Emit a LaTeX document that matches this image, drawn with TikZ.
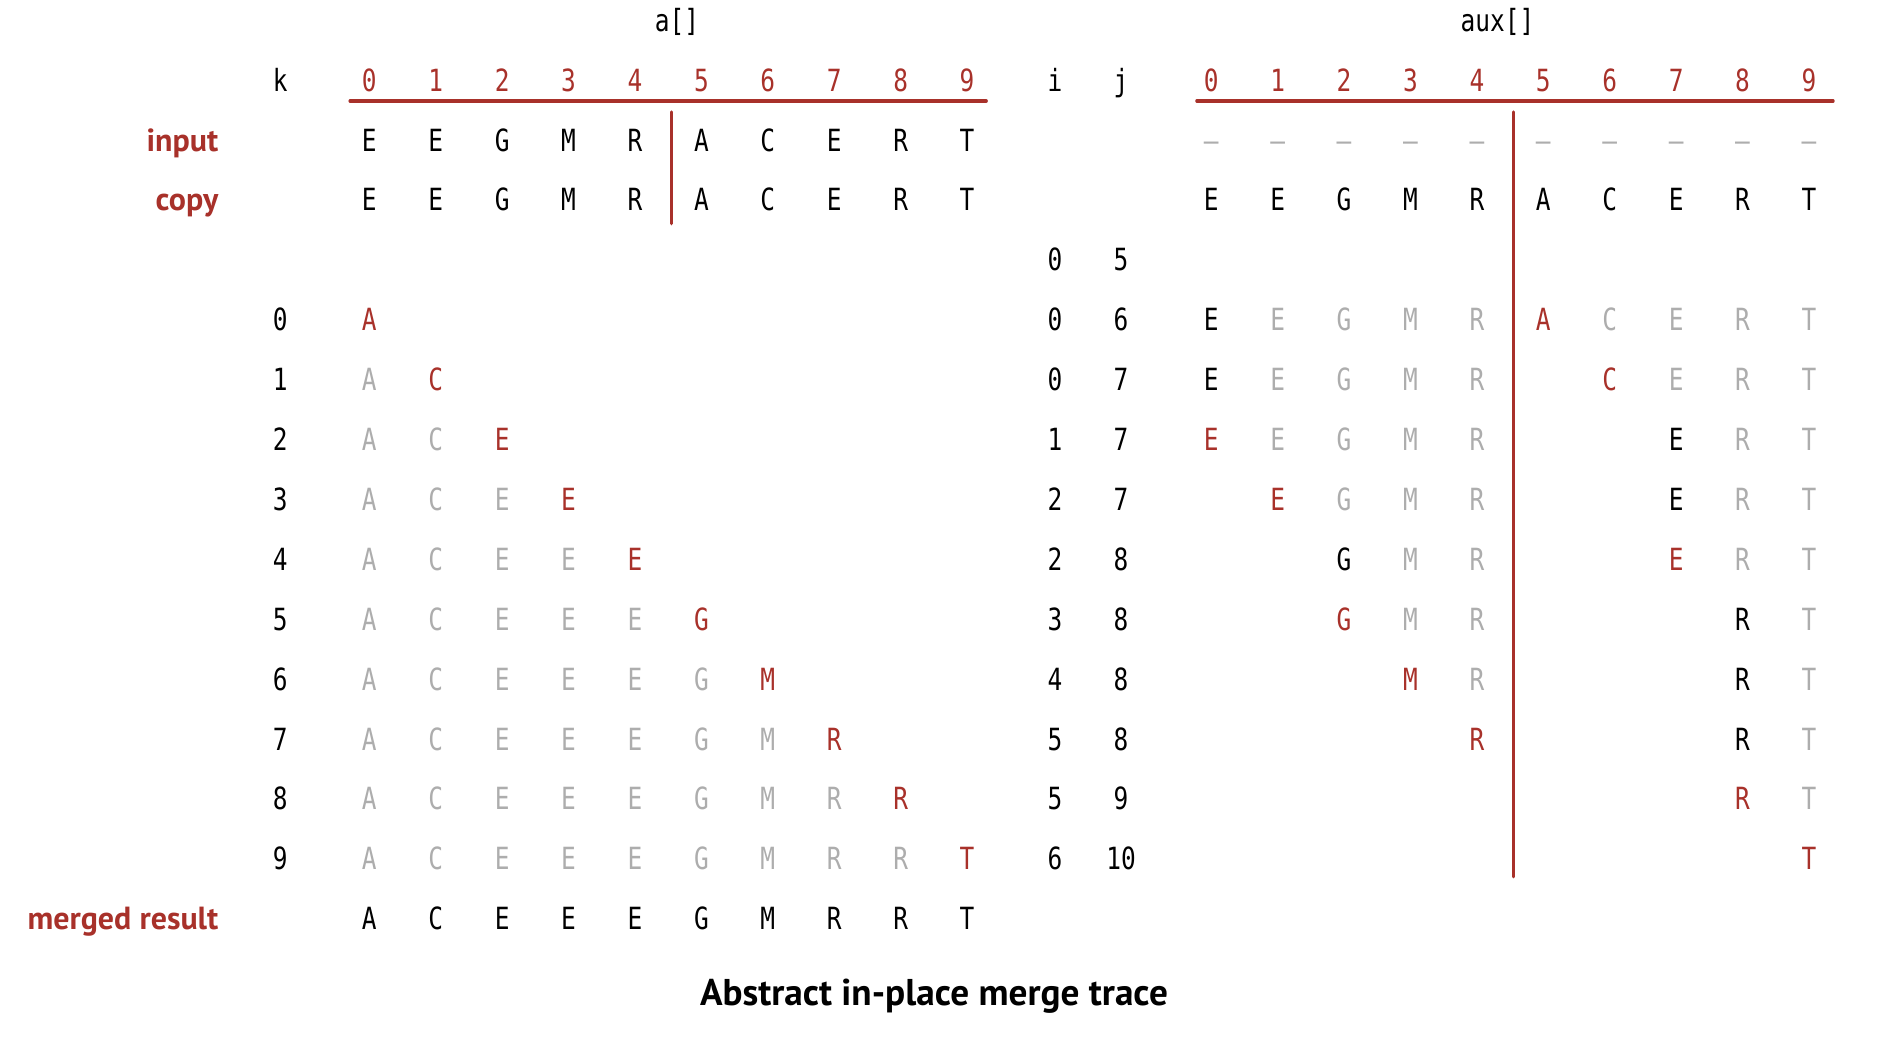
\documentclass[tikz,border=0pt]{standalone}
\usepackage{fontspec}
\usepackage{tikz}
\setsansfont{PT Sans}
\newfontfamily\tracefont{DejaVu Sans Mono}[FakeStretch=0.8]
\definecolor{trred}{HTML}{A8312A}
\definecolor{trgray}{HTML}{ADADAD}
\newcommand{\acol}[1]{3.693+0.6642*(#1)}
\newcommand{\bcol}[1]{12.112+0.6642*(#1)}
\newcommand{\rowy}[1]{8.93-0.599*(#1)}

\begin{document}
\begin{tikzpicture}[
  x=1cm, y=1cm,
  line cap=round,
  cell/.style={font=\tracefont\fontsize{8.7}{10}\selectfont, inner sep=0pt, anchor=base},
  hit/.style={cell, text=trred},
  dim/.style={cell, text=trgray},
  tag/.style={font=\sffamily\bfseries\fontsize{9.1}{11}\selectfont, text=trred, anchor=base east, inner sep=0pt},
  bar/.style={draw=trred, line width=0.9pt},
]
\useasboundingbox (0,0) rectangle (18.86,10.44);

% ----- titles and index rows -----
\node[cell] (atitle) at (6.77,10.12) {a[]};
\node[cell] (auxtitle) at (14.975,10.12) {aux[]};
\node[cell] (khead) at (2.803,9.525) {k};
\node[cell] (ihead) at (10.549,9.525) {i};
\node[cell] (jhead) at (11.210,9.525) {j};
\foreach \c in {0,...,9} {
  \node[hit] (ah\c) at ({\acol{\c}},9.525) {\c};
  \node[hit] (bh\c) at ({\bcol{\c}},9.525) {\c};
}
\draw[bar] (3.50,9.43) -- (9.863,9.43);
\draw[bar] (11.968,9.43) -- (18.331,9.43);

% ----- input and copy -----
\node[tag] (input) at (2.19,{\rowy{0}}) {input};
\node[tag] (copy) at (2.19,{\rowy{1}}) {copy};
\foreach \ch [count=\c from 0] in {E,E,G,M,R,A,C,E,R,T} {
  \node[cell] (in\c) at ({\acol{\c}},{\rowy{0}}) {\ch};
  \node[dim] (dash\c) at ({\bcol{\c}},{\rowy{0}}) {\textendash};
  \node[cell] (ca\c) at ({\acol{\c}},{\rowy{1}}) {\ch};
  \node[cell] (cb\c) at ({\bcol{\c}},{\rowy{1}}) {\ch};
}
\draw[bar] (6.712,9.32) -- (6.712,8.203);
\draw[bar] (15.131,9.32) -- (15.131,1.672);

% ----- merge steps: k, i, j and a[] -----
\node[cell] (istart) at (10.549,{\rowy{2}}) {0};
\node[cell] (jstart) at (11.210,{\rowy{2}}) {5};
\foreach \k/\i/\j in {0/0/6,1/0/7,2/1/7,3/2/7,4/2/8,5/3/8,6/4/8,7/5/8,8/5/9,9/6/10} {
  \node[cell] (k\k) at (2.803,{\rowy{\k+3}}) {\k};
  \node[cell] (i\k) at (10.549,{\rowy{\k+3}}) {\i};
  \node[cell] (j\k) at (11.210,{\rowy{\k+3}}) {\j};
  \foreach \ch [count=\c from 0] in {A,C,E,E,E,G,M,R,R,T} {
    \ifnum\c<\k \node[dim] (a\k-\c) at ({\acol{\c}},{\rowy{\k+3}}) {\ch};\fi
    \ifnum\c=\k \node[hit] (a\k-\c) at ({\acol{\c}},{\rowy{\k+3}}) {\ch};\fi
  }
}

% ----- merge steps: aux[] -----
\foreach \c/\ch/\s in {0/E/cell,1/E/dim,2/G/dim,3/M/dim,4/R/dim,5/A/hit,6/C/dim,7/E/dim,8/R/dim,9/T/dim}
  \node[\s] (b0-\c) at ({\bcol{\c}},{\rowy{3}}) {\ch};
\foreach \c/\ch/\s in {0/E/cell,1/E/dim,2/G/dim,3/M/dim,4/R/dim,6/C/hit,7/E/dim,8/R/dim,9/T/dim}
  \node[\s] (b1-\c) at ({\bcol{\c}},{\rowy{4}}) {\ch};
\foreach \c/\ch/\s in {0/E/hit,1/E/dim,2/G/dim,3/M/dim,4/R/dim,7/E/cell,8/R/dim,9/T/dim}
  \node[\s] (b2-\c) at ({\bcol{\c}},{\rowy{5}}) {\ch};
\foreach \c/\ch/\s in {1/E/hit,2/G/dim,3/M/dim,4/R/dim,7/E/cell,8/R/dim,9/T/dim}
  \node[\s] (b3-\c) at ({\bcol{\c}},{\rowy{6}}) {\ch};
\foreach \c/\ch/\s in {2/G/cell,3/M/dim,4/R/dim,7/E/hit,8/R/dim,9/T/dim}
  \node[\s] (b4-\c) at ({\bcol{\c}},{\rowy{7}}) {\ch};
\foreach \c/\ch/\s in {2/G/hit,3/M/dim,4/R/dim,8/R/cell,9/T/dim}
  \node[\s] (b5-\c) at ({\bcol{\c}},{\rowy{8}}) {\ch};
\foreach \c/\ch/\s in {3/M/hit,4/R/dim,8/R/cell,9/T/dim}
  \node[\s] (b6-\c) at ({\bcol{\c}},{\rowy{9}}) {\ch};
\foreach \c/\ch/\s in {4/R/hit,8/R/cell,9/T/dim}
  \node[\s] (b7-\c) at ({\bcol{\c}},{\rowy{10}}) {\ch};
\foreach \c/\ch/\s in {8/R/hit,9/T/dim}
  \node[\s] (b8-\c) at ({\bcol{\c}},{\rowy{11}}) {\ch};
\node[hit] (b9-9) at ({\bcol{9}},{\rowy{12}}) {T};

% ----- merged result -----
\node[tag] (merged) at (2.19,{\rowy{13}}) {merged result};
\foreach \ch [count=\c from 0] in {A,C,E,E,E,G,M,R,R,T}
  \node[cell] (m\c) at ({\acol{\c}},{\rowy{13}}) {\ch};

\node[font=\sffamily\bfseries\fontsize{10.6}{12}\selectfont, anchor=base] (caption) at (9.34,0.385) {Abstract in-place merge trace};
\end{tikzpicture}
\end{document}
